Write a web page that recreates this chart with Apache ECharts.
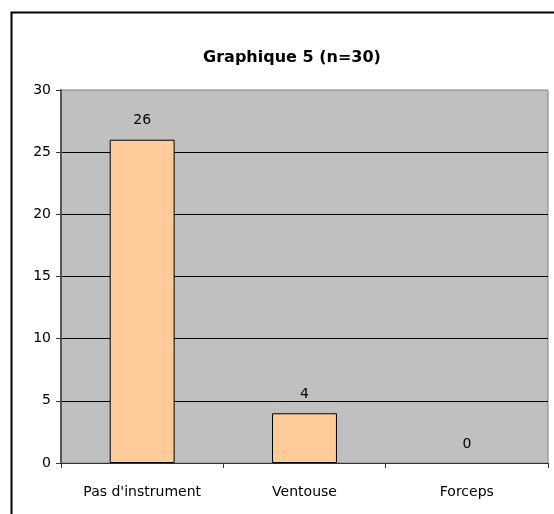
<!DOCTYPE html>
<html>
<head>
<meta charset="utf-8">
<script src="https://cdn.jsdelivr.net/npm/echarts@6/dist/echarts.min.js"></script>
<style>
  html, body { margin: 0; padding: 0; background: #fff; }
  #chart { width: 554px; height: 514px; }
</style>
</head>
<body>
<div id="chart"></div>
<script>
const categories = ["Pas d'instrument", 'Ventouse', 'Forceps']
const counts = [26, 4, 0]
const chartTitle = 'Graphique 5 (n=30)'

const FONT = '"Comic Sans MS", "DejaVu Sans", sans-serif'
const chart = echarts.init(document.getElementById('chart'))

// zero-height bars have no visible outline in the original
const barData = counts.map(v => ({
  value: v,
  itemStyle: { borderWidth: v === 0 ? 0 : 1 }
}))

chart.setOption({
  animation: false,
  textStyle: { fontFamily: FONT },
  graphic: [
    {
      type: 'rect',
      shape: { x: 11.5, y: 12.5, width: 600, height: 600 },
      style: { fill: 'none', stroke: '#000', lineWidth: 2 },
      z: -1
    }
  ],
  title: {
    text: chartTitle,
    left: 287,
    top: 45,
    textAlign: 'center',
    textStyle: { fontFamily: FONT, fontSize: 16, fontWeight: 'bold', color: '#000' }
  },
  grid: {
    left: 61,
    top: 90,
    right: 6,
    bottom: 51,
    show: true,
    backgroundColor: '#c0c0c0',
    borderColor: '#808080',
    borderWidth: 1
  },
  xAxis: {
    type: 'category',
    data: categories,
    axisLine: { lineStyle: { color: '#333', width: 1 } },
    axisTick: { show: true, length: 5, lineStyle: { color: '#333' } },
    axisLabel: { color: '#000', fontSize: 14, fontFamily: FONT, margin: 22 }
  },
  yAxis: {
    type: 'value',
    min: 0,
    max: 30,
    interval: 5,
    axisLine: { show: true, lineStyle: { color: '#555', width: 2 } },
    axisTick: { show: true, length: 5, lineStyle: { color: '#333' } },
    axisLabel: { color: '#000', fontSize: 14, fontFamily: FONT, margin: 10 },
    splitLine: { show: true, showMaxLine: false, lineStyle: { color: '#000', width: 1 } }
  },
  series: [
    {
      type: 'bar',
      data: barData,
      barWidth: '40%',
      itemStyle: { color: '#ffcc99', borderColor: '#000', borderWidth: 1 },
      label: {
        show: true,
        position: 'top',
        distance: 12,
        color: '#000',
        fontSize: 14,
        fontFamily: FONT
      }
    }
  ]
})
</script>
</body>
</html>
